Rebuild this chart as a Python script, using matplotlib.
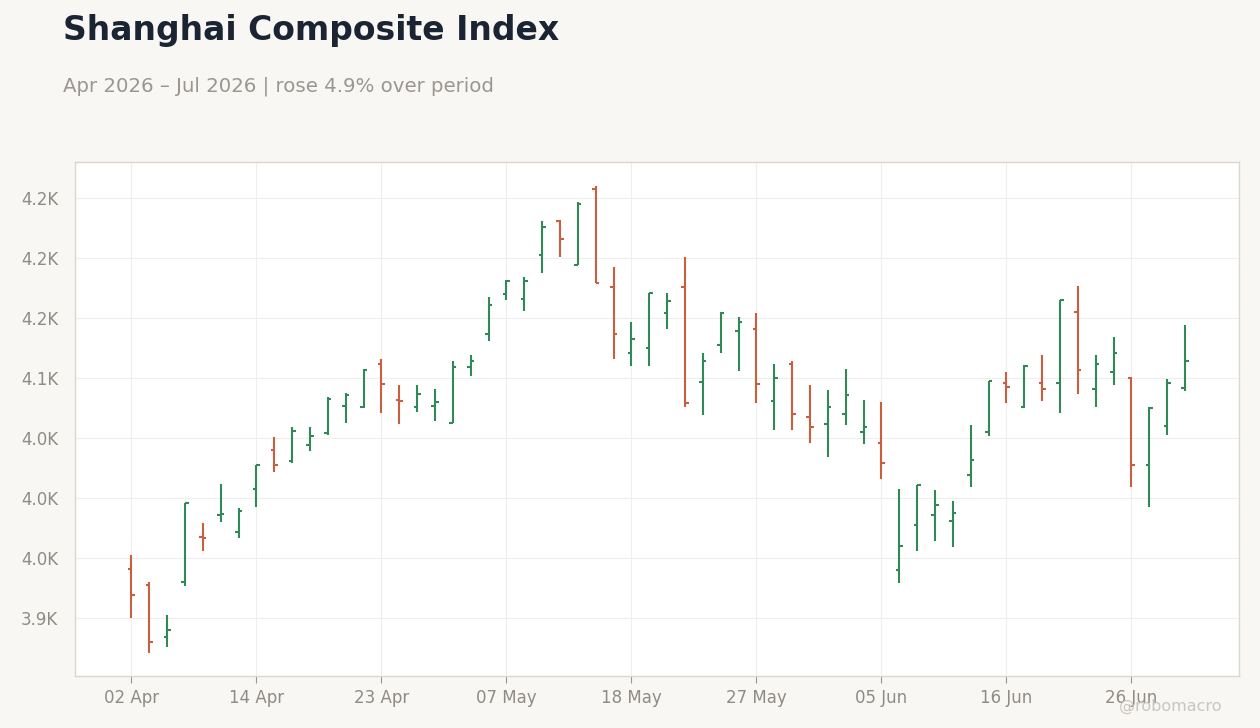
import matplotlib
matplotlib.use("Agg")
import matplotlib.pyplot as plt
from matplotlib.ticker import FixedLocator, FuncFormatter, MultipleLocator
import pandas as pd

# ---- data -------------------------------------------------------------
dates = [
    "2026-04-02", "2026-04-03", "2026-04-07", "2026-04-08", "2026-04-09", "2026-04-10",
    "2026-04-13", "2026-04-14", "2026-04-15", "2026-04-16", "2026-04-17", "2026-04-20",
    "2026-04-21", "2026-04-22", "2026-04-23", "2026-04-24", "2026-04-27", "2026-04-28",
    "2026-04-29", "2026-04-30", "2026-05-06", "2026-05-07", "2026-05-08", "2026-05-11",
    "2026-05-12", "2026-05-13", "2026-05-14", "2026-05-15", "2026-05-18", "2026-05-19",
    "2026-05-20", "2026-05-21", "2026-05-22", "2026-05-25", "2026-05-26", "2026-05-27",
    "2026-05-28", "2026-05-29", "2026-06-01", "2026-06-02", "2026-06-03", "2026-06-04",
    "2026-06-05", "2026-06-08", "2026-06-09", "2026-06-10", "2026-06-11", "2026-06-12",
    "2026-06-15", "2026-06-16", "2026-06-17", "2026-06-18", "2026-06-22", "2026-06-23",
    "2026-06-24", "2026-06-25", "2026-06-26", "2026-06-29", "2026-06-30", "2026-07-01",
]
opens = [3941, 3928, 3884, 3930, 3968, 3986, 3972, 4008, 4040, 4031,
         4044, 4054, 4077, 4076, 4112, 4082, 4076, 4077, 4063, 4109,
         4137, 4170, 4166, 4203, 4231, 4194, 4258, 4176, 4121, 4125,
         4154, 4176, 4097, 4128, 4139, 4141, 4081, 4112, 4068, 4062,
         4070, 4055, 4046, 3940, 3978, 3986, 3981, 4019, 4055, 4096,
         4076, 4096, 4096, 4155, 4091, 4105, 4100, 4028, 4060, 4092]
highs = [3953, 3930, 3903, 3996, 3979, 4012, 3992, 4028, 4051, 4059,
         4059, 4084, 4088, 4108, 4116, 4094, 4094, 4091, 4114, 4119,
         4168, 4182, 4184, 4231, 4232, 4247, 4260, 4193, 4147, 4171,
         4171, 4201, 4121, 4155, 4151, 4154, 4112, 4114, 4094, 4090,
         4108, 4082, 4080, 4008, 4011, 4007, 3998, 4061, 4098, 4105,
         4111, 4119, 4165, 4177, 4119, 4134, 4101, 4076, 4099, 4144]
lows = [3900, 3871, 3876, 3927, 3956, 3980, 3967, 3993, 4022, 4029,
        4039, 4053, 4063, 4075, 4071, 4062, 4072, 4064, 4063, 4102,
        4131, 4165, 4156, 4188, 4201, 4194, 4179, 4116, 4110, 4110,
        4141, 4076, 4069, 4121, 4106, 4079, 4057, 4057, 4046, 4034,
        4061, 4045, 4016, 3929, 3956, 3964, 3959, 4009, 4052, 4079,
        4075, 4081, 4071, 4087, 4076, 4094, 4009, 3993, 4053, 4089]
closes = [3919, 3880, 3890, 3996, 3967, 3987, 3989, 4028, 4028, 4056,
          4052, 4083, 4086, 4107, 4095, 4081, 4087, 4080, 4109, 4114,
          4161, 4181, 4181, 4226, 4216, 4245, 4179, 4137, 4133, 4171,
          4164, 4079, 4114, 4154, 4147, 4095, 4100, 4070, 4059, 4076,
          4086, 4059, 4029, 3960, 4011, 3994, 3988, 4032, 4098, 4093,
          4110, 4091, 4165, 4107, 4112, 4121, 4028, 4075, 4096, 4114]

title = "Shanghai Composite Index"
subtitle = "Apr 2026 \u2013 Jul 2026 | rose 4.9% over period"
watermark = "@robomacro"

# ---- styling -----------------------------------------------------------
UP = "#2f8a58"
DOWN = "#c95f3e"
BG = "#f9f7f4"
GRID = "#eeeeee"
TICKC = "#999590"

fig = plt.figure(figsize=(12.6, 7.28), dpi=100, facecolor=BG)
ax = fig.add_axes([75 / 1260, 1 - 675.5 / 728, (1239 - 75) / 1260, (675.5 - 162) / 728])
ax.set_facecolor("white")

x = list(range(len(dates)))
tick_len = 0.2
for i, o, h, l, c in zip(x, opens, highs, lows, closes):
    col = UP if c >= o else DOWN
    ax.vlines(i, l, h, color=col, lw=1.5, zorder=3)
    ax.hlines(o, i - tick_len, i, color=col, lw=1.5, zorder=3)
    ax.hlines(c, i, i + tick_len, color=col, lw=1.5, zorder=3)

ax.set_xlim(-3.16, 62.02)
ax.set_ylim(3852.3, 4280.25)

dt = pd.to_datetime(dates)
tick_idx = list(range(0, len(dates), 7))
ax.xaxis.set_major_locator(FixedLocator(tick_idx))
ax.set_xticklabels([dt[i].strftime("%d %b") for i in tick_idx])
ax.yaxis.set_major_locator(MultipleLocator(50))
ax.yaxis.set_major_formatter(FuncFormatter(lambda v, p: f"{v / 1000:.1f}K"))

ax.grid(True, color=GRID, lw=0.8, zorder=0)
ax.set_axisbelow(True)
for s in ax.spines.values():
    s.set_color("#dcd6cf")
    s.set_linewidth(1.0)

ax.tick_params(axis="x", colors=TICKC, labelsize=12, length=5, width=0.8, pad=5,
               labelcolor="#8f8b86")
ax.tick_params(axis="y", length=0, labelsize=12, pad=12, labelcolor="#8f8b86")

fig.text(63 / 1260, 1 - 40 / 728, title, fontsize=23.8, fontweight="bold",
         color="#1b2433", ha="left", va="baseline")
fig.text(63 / 1260, 1 - 92 / 728, subtitle, fontsize=14.2, color="#9a9793",
         ha="left", va="baseline")
fig.text(1222 / 1260, 1 - 711 / 728, watermark, fontsize=11.5, color="#c9c5c1",
         ha="right", va="baseline")

fig.savefig("out.png", dpi=100, facecolor=BG)
